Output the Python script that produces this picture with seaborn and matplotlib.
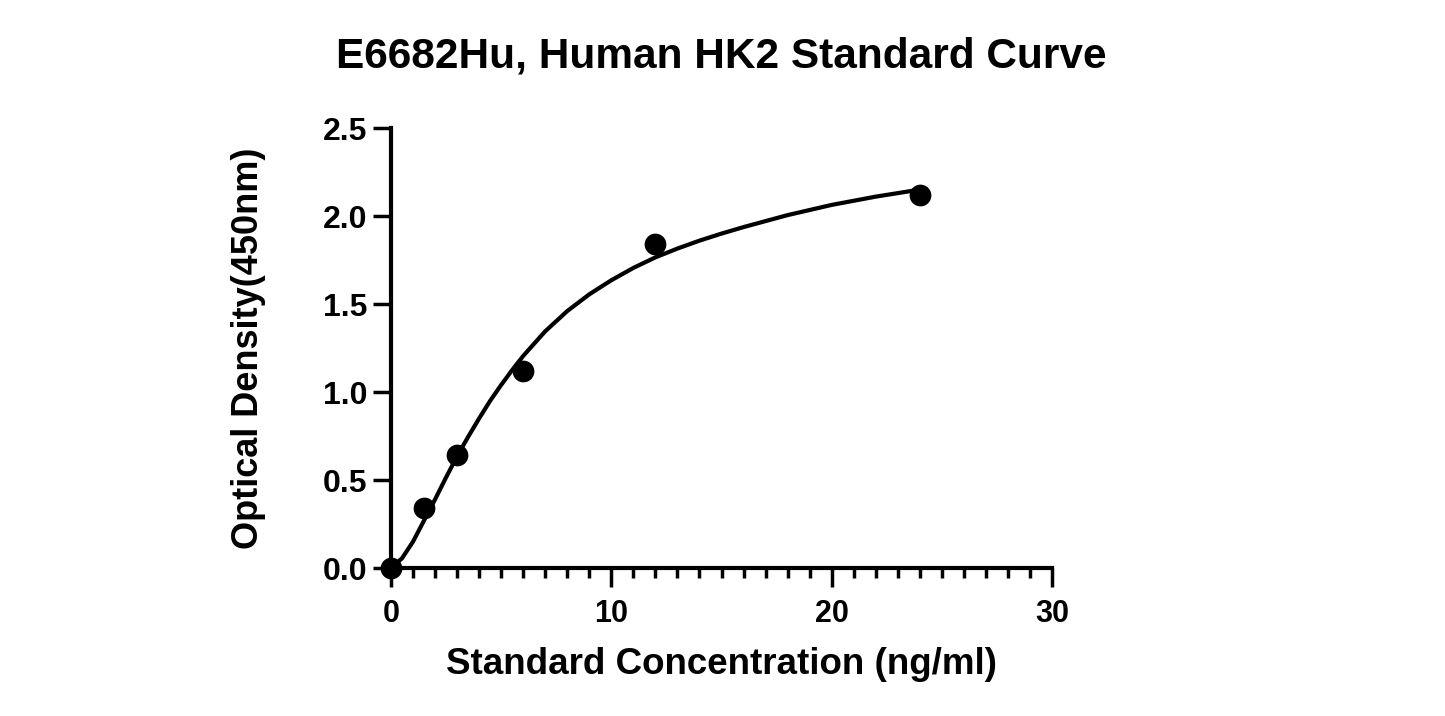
import numpy as np
import pandas as pd
import matplotlib
matplotlib.use('Agg')
import matplotlib.pyplot as plt
import seaborn as sns
from matplotlib.ticker import MultipleLocator

# standards (ng/ml) and measured OD
conc = [0, 1.5, 3, 6, 12, 24]
od = [0.0, 0.34, 0.64, 1.12, 1.84, 2.12]

# fitted curve
curve_x = [0.0, 0.5, 1.0, 1.5, 2.0, 2.5, 3.0, 3.5, 4.0, 4.5, 5.0, 5.5, 6.0,
           7.0, 8.0, 9.0, 10.0, 11.0, 12.0, 13.0, 14.0, 15.0, 16.0, 18.0, 20.0, 22.0, 24.0]
curve_y = [0.0, 0.055, 0.15, 0.27, 0.39, 0.515, 0.635, 0.745, 0.85, 0.95, 1.04, 1.125, 1.205,
           1.345, 1.46, 1.555, 1.635, 1.705, 1.765, 1.815, 1.86, 1.90, 1.937, 2.005, 2.063, 2.11, 2.15]

x_ticks = [0, 10, 20, 30]
y_ticks = [0.0, 0.5, 1.0, 1.5, 2.0, 2.5]

sns.set_style("ticks")
plt.rcParams['font.family'] = ['Liberation Sans', 'DejaVu Sans']
plt.rcParams['font.weight'] = 'bold'
for k in ['text.color', 'axes.labelcolor', 'xtick.color', 'ytick.color', 'axes.edgecolor']:
    plt.rcParams[k] = 'black'

fig = plt.figure(figsize=(14.45, 7.16), dpi=100)
ax = fig.add_axes([391 / 1445, 1 - 568 / 716, 661 / 1445, 440 / 716])

curve = pd.DataFrame({'x': curve_x, 'y': curve_y})
pts = pd.DataFrame({'x': conc, 'y': od})
sns.lineplot(data=curve, x='x', y='y', color='black', lw=3, sort=False,
             estimator=None, ax=ax, clip_on=False, solid_joinstyle='round')
sns.scatterplot(data=pts, x='x', y='y', color='black', s=210, edgecolor='black',
                zorder=5, clip_on=False, ax=ax)

ax.set_xlim(0, 30)
ax.set_ylim(0, 2.5)
ax.set_xticks(x_ticks)
ax.set_yticks(y_ticks)
ax.set_yticklabels([f'{v:.1f}' for v in y_ticks])
ax.xaxis.set_minor_locator(MultipleLocator(1))
sns.despine(ax=ax)
for s in ['left', 'bottom']:
    ax.spines[s].set_linewidth(3)
ax.tick_params(axis='y', which='major', length=13, width=2.5, pad=4, labelsize=23)
ax.tick_params(axis='x', which='major', length=14, width=2.5, pad=8, labelsize=22)
ax.tick_params(axis='x', which='minor', length=7, width=2.5)
for lab in ax.get_xticklabels() + ax.get_yticklabels():
    lab.set_fontweight('bold')

ax.set_xlabel('Standard Concentration (ng/ml)', fontsize=26.5, fontweight='bold')
ax.set_ylabel('Optical Density(450nm)', fontsize=26, fontweight='bold')
ax.xaxis.label.set_va('center')
ax.yaxis.label.set_va('center')
ax.xaxis.set_label_coords(0.5, -0.22)
ax.yaxis.set_label_coords(-0.216, 0.5)

fig.text(0.499, 1 - 57 / 716, 'E6682Hu, Human HK2 Standard Curve', fontsize=30.5,
         fontweight='bold', ha='center', va='center')

fig.savefig('out.png', dpi=100)
